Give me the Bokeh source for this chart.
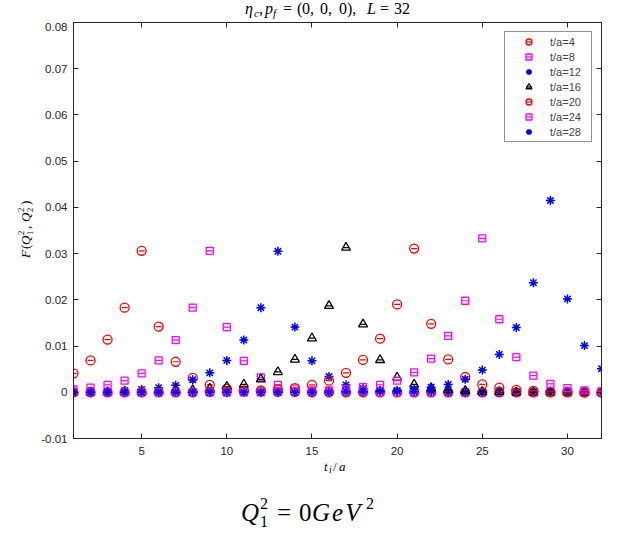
import math
from bokeh.plotting import figure
from bokeh.models import Range1d, LinearAxis, FixedTicker, Legend, LegendItem, Div
from bokeh.layouts import column, row
from bokeh.embed import file_html
from bokeh.resources import INLINE

# ---------------- data ----------------
t_i = list(range(1, 33))
x_ticks = [5, 10, 15, 20, 25, 30]
y_ticks = [-0.01, 0.0, 0.01, 0.02, 0.03, 0.04, 0.05, 0.06, 0.07, 0.08]
y_tick_labels = ["-0.01", "0", "0.01", "0.02", "0.03", "0.04", "0.05", "0.06", "0.07", "0.08"]
series_labels = ["t/a=4", "t/a=8", "t/a=12", "t/a=16", "t/a=20", "t/a=24", "t/a=28"]

f_t4 = [0.0041, 0.0069, 0.0114, 0.0183, 0.0306, 0.0142, 0.0066, 0.0031, 0.0016, 0.0008,
        0.0004, 0.0002, 0.0001, 0.0001, 0.0, 0.0, 0.0, 0.0, 0.0, 0.0,
        0.0, 0.0, 0.0, 0.0, 0.0, 0.0, 0.0, 0.0, 0.0, 0.0, 0.0, 0.0]
f_t8 = [0.0006, 0.0010, 0.0016, 0.0025, 0.0041, 0.0069, 0.0113, 0.0183, 0.0306, 0.0141,
        0.0068, 0.0032, 0.0016, 0.0008, 0.0004, 0.0002, 0.0001, 0.0001, 0.0, 0.0,
        0.0, 0.0, 0.0, 0.0, 0.0, 0.0, 0.0, 0.0, 0.0, 0.0, 0.0, 0.0]
f_t12 = [0.0001, 0.0001, 0.0002, 0.0004, 0.0006, 0.0010, 0.0015, 0.0027, 0.0042, 0.0069,
         0.0113, 0.0183, 0.0305, 0.0141, 0.0068, 0.0034, 0.0016, 0.0008, 0.0004, 0.0002,
         0.0001, 0.0001, 0.0, 0.0, 0.0, 0.0, 0.0, 0.0, 0.0, 0.0, 0.0, 0.0]
f_t16 = [0.0, 0.0, 0.0, 0.0001, 0.0001, 0.0002, 0.0003, 0.0005, 0.0008, 0.0012,
         0.0017, 0.0028, 0.0044, 0.0071, 0.0117, 0.0187, 0.0313, 0.0147, 0.0070, 0.0032,
         0.0017, 0.0009, 0.0005, 0.0003, 0.0001, 0.0001, 0.0, 0.0, 0.0, 0.0, 0.0, 0.0]
f_t20 = [0.0, 0.0, 0.0, 0.0, 0.0, 0.0, 0.0, 0.0, 0.0001, 0.0001,
         0.0002, 0.0004, 0.0006, 0.0009, 0.0016, 0.0025, 0.0042, 0.0070, 0.0116, 0.0190,
         0.0311, 0.0148, 0.0071, 0.0033, 0.0017, 0.0010, 0.0005, 0.0003, 0.0001, 0.0001, 0.0, 0.0]
f_t24 = [0.0, 0.0, 0.0, 0.0, 0.0, 0.0, 0.0, 0.0, 0.0, 0.0,
         0.0, 0.0, 0.0001, 0.0001, 0.0002, 0.0004, 0.0007, 0.0011, 0.0016, 0.0025,
         0.0043, 0.0073, 0.0122, 0.0198, 0.0333, 0.0158, 0.0076, 0.0036, 0.0018, 0.0009, 0.0004, 0.0002]
f_t28 = [0.0, 0.0, 0.0, 0.0, 0.0, 0.0, 0.0, 0.0, 0.0, 0.0,
         0.0, 0.0, 0.0, 0.0, 0.0, 0.0, 0.0001, 0.0001, 0.0002, 0.0004,
         0.0007, 0.0011, 0.0017, 0.0028, 0.0048, 0.0082, 0.0140, 0.0237, 0.0415, 0.0202, 0.0101, 0.0051]

series_values = [f_t4, f_t8, f_t12, f_t16, f_t20, f_t24, f_t28]
series_colors = ["#ff0000", "#ff00ff", "#0000ff", "#000000", "#ff0000", "#ff00ff", "#0000ff"]
series_markers = ["circle", "square", "asterisk", "triangle", "circle", "square", "asterisk"]
series_sizes = [9, 7, 9, 9, 9, 7, 9]

AX = "#262626"
SERIF = "'Liberation Serif', 'Times New Roman', serif"

# ---------------- figure ----------------
p = figure(width=589, height=438, output_backend="svg", toolbar_location=None,
           x_range=Range1d(1, 32), y_range=Range1d(-0.01, 0.08), margin=0,
           min_border_left=37, min_border_right=24, min_border_top=0, min_border_bottom=22)
p.xgrid.visible = False
p.ygrid.visible = False
p.outline_line_color = AX
p.background_fill_color = "white"
p.border_fill_color = "white"

def style_axis(ax, ticks, show_labels=True):
    ax.ticker = FixedTicker(ticks=ticks)
    ax.major_tick_in = 5
    ax.major_tick_out = 0
    ax.minor_tick_line_color = None
    ax.axis_line_color = AX
    ax.major_tick_line_color = AX
    ax.major_label_text_font = "Liberation Sans"
    if show_labels:
        ax.major_label_text_font_size = "11.5px"
        ax.major_label_text_color = AX
    else:
        ax.major_label_text_font_size = "0px"
        ax.major_label_text_color = None
        ax.major_label_standoff = 0
        ax.axis_label_standoff = 0

style_axis(p.xaxis[0], x_ticks)
p.xaxis[0].major_label_standoff = 8
style_axis(p.yaxis[0], y_ticks)
p.yaxis[0].major_label_standoff = 6
p.yaxis[0].major_label_overrides = {v: s for v, s in zip(y_ticks, y_tick_labels)}

ax_r = LinearAxis()
style_axis(ax_r, y_ticks, show_labels=False)
p.add_layout(ax_r, "right")
ax_t = LinearAxis()
style_axis(ax_t, x_ticks, show_labels=False)
p.add_layout(ax_t, "above")

items = []
for lab, vals, col, mk, sz in zip(series_labels, series_values, series_colors, series_markers, series_sizes):
    r1 = p.scatter(t_i, vals, marker=mk, size=sz, line_color=col, fill_color=None,
                   line_width=1.5 if mk == "asterisk" else 1.3)
    r2 = p.scatter(t_i, vals, marker="dash", size=6, line_color=col, line_width=1.2)
    items.append(LegendItem(label=lab, renderers=[r1, r2]))

legend = Legend(items=items, location="top_right", margin=9, padding=2, spacing=0,
                label_height=15, glyph_height=15, glyph_width=43, label_width=39,
                label_standoff=0, label_text_font="Liberation Sans",
                label_text_font_size="11px", border_line_color=AX, border_line_width=1,
                background_fill_color="white", background_fill_alpha=1.0)
p.add_layout(legend)

# ---------------- math-like texts as HTML ----------------
def span(txt, x, base, size, italic=False, extra=""):
    top = base - 0.8375 * size
    st = "italic" if italic else "normal"
    return (f'<span style="position:absolute;left:{x}px;top:{top:.1f}px;'
            f'font-family:{SERIF};font-size:{size}px;font-style:{st};'
            f'line-height:1;white-space:nowrap;color:#000;{extra}">{txt}</span>')

def box(w, h, inner):
    return (f'<div style="position:relative;width:{w}px;height:{h}px;'
            f'overflow:visible;margin:0;padding:0">{inner}</div>')

VIS = {"overflow": "visible"}

# title: div spans page y 0..22
tb = 14
title_html = "".join([
    span("η", 245, tb, 16, True),
    span("c", 254, tb + 3, 11, True),
    span(",", 259, tb, 16),
    span("p", 265, tb, 16, True),
    span("f", 273, tb + 3, 11, True),
    span("=", 283, tb, 16),
    span("(", 297, tb, 16),
    span("0,", 302, tb, 16),
    span("0,", 320, tb, 16),
    span("0),", 339, tb, 16),
    span("L", 367, tb, 16, True),
    span("=", 380, tb, 16),
    span("32", 394, tb, 16),
])
title_div = Div(text=box(625, 22, title_html), width=625, height=22, margin=0, styles=VIS)

# y label: div spans page x 0..36, y 22..460; rotated container with origin at page (0, 258)
yb = 30
yl_inner = "".join([
    span("F", 0, yb, 13, True),
    span("(", 9, yb, 13),
    span("Q", 13, yb, 13, True),
    span("2", 23, yb - 5.5, 8.5),
    span("1", 23, yb + 3.5, 8.5),
    span(",", 29, yb, 13),
    span("Q", 36, yb, 13, True),
    span("2", 46, yb - 5.5, 8.5),
    span("2", 46, yb + 3.5, 8.5),
    span(")", 53, yb, 13),
])
rot = (f'<div style="position:absolute;left:0px;top:{258 - 22}px;width:80px;height:40px;'
       f'transform-origin:0 0;transform:rotate(-90deg)">{yl_inner}</div>')
ylab_div = Div(text=box(36, 438, rot), width=36, height=438, margin=0, styles=VIS)

# bottom: div spans page y 460..535
b0 = 460
bottom_html = "".join([
    span("t", 324, 471 - b0, 13, True),
    span("i", 329, 474 - b0, 9.5, True),
    span("/", 333, 471 - b0, 13),
    span("a", 339, 471 - b0, 13, True),
    span("Q", 241, 521 - b0, 25, True),
    span("2", 260, 509 - b0, 16),
    span("1", 260, 527 - b0, 16),
    span("=", 277, 521 - b0, 25),
    span("0", 299, 521 - b0, 25),
    span("GeV", 312, 521 - b0, 25, True, "letter-spacing:2px"),
    span("2", 366, 509 - b0, 16),
])
bottom_div = Div(text=box(625, 75, bottom_html), width=625, height=75, margin=0, styles=VIS)

layout = column(title_div, row(ylab_div, p, spacing=0, margin=0), bottom_div,
                spacing=0, margin=0)

open("out.html", "w").write(file_html(layout, INLINE))
